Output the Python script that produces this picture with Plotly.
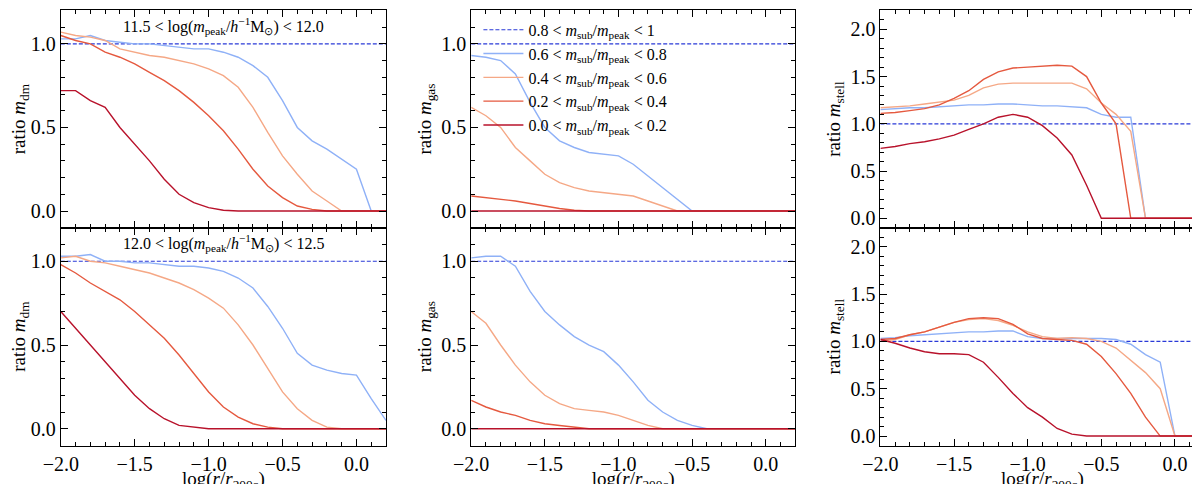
import plotly.graph_objects as go
from plotly.subplots import make_subplots

x = [round(-2.0 + 0.1 * i, 1) for i in range(23)]

# one dict per panel: series for bins 0.6-0.8, 0.4-0.6, 0.2-0.4, 0.0-0.2
dm_low = {
    "b06": [1.03, 1.03, 1.05, 1.02, 1.01, 1.0, 1.0, 0.99, 0.98, 0.97, 0.97, 0.95, 0.92, 0.87, 0.8, 0.66, 0.5, 0.42, 0.37, 0.31, 0.25, 0.0, 0.0],
    "b04": [1.07, 1.05, 1.04, 1.02, 0.97, 0.95, 0.93, 0.92, 0.9, 0.88, 0.85, 0.81, 0.74, 0.62, 0.47, 0.33, 0.22, 0.12, 0.06, 0.0, 0.0, 0.0, 0.0],
    "b02": [1.05, 1.02, 1.0, 0.95, 0.92, 0.88, 0.83, 0.78, 0.72, 0.65, 0.57, 0.48, 0.37, 0.25, 0.15, 0.08, 0.03, 0.01, 0.0, 0.0, 0.0, 0.0, 0.0],
    "b00": [0.72, 0.72, 0.66, 0.62, 0.5, 0.4, 0.3, 0.19, 0.1, 0.05, 0.02, 0.005, 0.0, 0.0, 0.0, 0.0, 0.0, 0.0, 0.0, 0.0, 0.0, 0.0, 0.0],
}
dm_high = {
    "b06": [1.03, 1.03, 1.04, 1.0, 1.0, 0.99, 0.99, 0.98, 0.97, 0.97, 0.96, 0.94, 0.9, 0.84, 0.73, 0.6, 0.45, 0.38, 0.35, 0.33, 0.32, 0.18, 0.05],
    "b04": [1.02, 1.03, 1.0, 0.99, 0.97, 0.95, 0.93, 0.9, 0.87, 0.83, 0.78, 0.72, 0.62, 0.5, 0.36, 0.22, 0.12, 0.05, 0.01, 0.0, 0.0, 0.0, 0.0],
    "b02": [0.98, 0.93, 0.87, 0.82, 0.77, 0.7, 0.62, 0.54, 0.44, 0.33, 0.22, 0.13, 0.07, 0.03, 0.01, 0.0, 0.0, 0.0, 0.0, 0.0, 0.0, 0.0, 0.0],
    "b00": [0.7, 0.6, 0.5, 0.4, 0.3, 0.2, 0.12, 0.06, 0.02, 0.01, 0.0, 0.0, 0.0, 0.0, 0.0, 0.0, 0.0, 0.0, 0.0, 0.0, 0.0, 0.0, 0.0],
}
gas_low = {
    "b06": [0.93, 0.92, 0.9, 0.82, 0.65, 0.5, 0.42, 0.38, 0.35, 0.34, 0.33, 0.28, 0.21, 0.14, 0.07, 0.0, 0.0, 0.0, 0.0, 0.0, 0.0, 0.0, 0.0],
    "b04": [0.62, 0.57, 0.5, 0.38, 0.3, 0.22, 0.17, 0.14, 0.12, 0.11, 0.1, 0.09, 0.06, 0.03, 0.0, 0.0, 0.0, 0.0, 0.0, 0.0, 0.0, 0.0, 0.0],
    "b02": [0.09, 0.08, 0.07, 0.06, 0.045, 0.03, 0.015, 0.005, 0.0, 0.0, 0.0, 0.0, 0.0, 0.0, 0.0, 0.0, 0.0, 0.0, 0.0, 0.0, 0.0, 0.0, 0.0],
    "b00": [0.0] * 23,
}
gas_high = {
    "b06": [1.02, 1.03, 1.03, 0.97, 0.82, 0.7, 0.62, 0.55, 0.5, 0.46, 0.38, 0.28, 0.17, 0.1, 0.05, 0.02, 0.0, 0.0, 0.0, 0.0, 0.0, 0.0, 0.0],
    "b04": [0.7, 0.63, 0.5, 0.38, 0.28, 0.2, 0.15, 0.12, 0.11, 0.1, 0.08, 0.05, 0.02, 0.0, 0.0, 0.0, 0.0, 0.0, 0.0, 0.0, 0.0, 0.0, 0.0],
    "b02": [0.17, 0.13, 0.1, 0.08, 0.05, 0.03, 0.02, 0.01, 0.0, 0.0, 0.0, 0.0, 0.0, 0.0, 0.0, 0.0, 0.0, 0.0, 0.0, 0.0, 0.0, 0.0, 0.0],
    "b00": [0.0] * 23,
}
stell_low = {
    "b06": [1.15, 1.16, 1.17, 1.17, 1.18, 1.19, 1.2, 1.2, 1.21, 1.21, 1.2, 1.19, 1.19, 1.18, 1.17, 1.1, 1.07, 1.07, 0.0, 0.0, 0.0, 0.0, 0.0],
    "b04": [1.17, 1.18, 1.19, 1.21, 1.23, 1.25, 1.3, 1.38, 1.42, 1.43, 1.43, 1.43, 1.43, 1.43, 1.37, 1.22, 1.1, 0.92, 0.0, 0.0, 0.0, 0.0, 0.0],
    "b02": [1.11, 1.12, 1.14, 1.16, 1.2, 1.27, 1.35, 1.47, 1.55, 1.59, 1.6, 1.61, 1.62, 1.61, 1.5, 1.22, 1.0, 0.0, 0.0, 0.0, 0.0, 0.0, 0.0],
    "b00": [0.74, 0.76, 0.79, 0.81, 0.84, 0.88, 0.94, 1.0, 1.07, 1.1, 1.07, 0.98, 0.85, 0.67, 0.35, 0.0, 0.0, 0.0, 0.0, 0.0, 0.0, 0.0, 0.0],
}
stell_high = {
    "b06": [1.03, 1.04, 1.06, 1.07, 1.08, 1.09, 1.1, 1.1, 1.11, 1.11, 1.05, 1.03, 1.03, 1.03, 1.03, 1.03, 1.02, 0.97, 0.86, 0.78, 0.0, 0.0, 0.0],
    "b04": [1.0, 1.02, 1.07, 1.1, 1.15, 1.2, 1.23, 1.24, 1.22, 1.17, 1.1, 1.05, 1.03, 1.04, 1.03, 1.0, 0.93, 0.8, 0.67, 0.5, 0.0, 0.0, 0.0],
    "b02": [1.02, 1.03, 1.07, 1.1, 1.15, 1.2, 1.24, 1.25, 1.24, 1.18, 1.08, 1.03, 1.02, 1.01, 0.97, 0.84, 0.66, 0.45, 0.2, 0.0, 0.0, 0.0, 0.0],
    "b00": [1.02, 0.98, 0.93, 0.89, 0.87, 0.87, 0.86, 0.78, 0.62, 0.45, 0.3, 0.2, 0.08, 0.02, 0.0, 0.0, 0.0, 0.0, 0.0, 0.0, 0.0, 0.0, 0.0],
}

bins = ["b06", "b04", "b02", "b00"]
colors = {"b06": "#8fb1f7", "b04": "#f5a886", "b02": "#e5593f", "b00": "#b8122b"}
names = {
    "b08": "0.8 < <i>m</i><sub>sub</sub>/<i>m</i><sub>peak</sub> < 1",
    "b06": "0.6 < <i>m</i><sub>sub</sub>/<i>m</i><sub>peak</sub> < 0.8",
    "b04": "0.4 < <i>m</i><sub>sub</sub>/<i>m</i><sub>peak</sub> < 0.6",
    "b02": "0.2 < <i>m</i><sub>sub</sub>/<i>m</i><sub>peak</sub> < 0.4",
    "b00": "0.0 < <i>m</i><sub>sub</sub>/<i>m</i><sub>peak</sub> < 0.2",
}
panels = [[dm_low, gas_low, stell_low], [dm_high, gas_high, stell_high]]
ylabels = ["ratio <i>m</i><sub>dm</sub>", "ratio <i>m</i><sub>gas</sub>", "ratio <i>m</i><sub>stell</sub>"]

FONT = "Liberation Serif"
fig = make_subplots(rows=2, cols=3)

for r in range(2):
    for c in range(3):
        d = panels[r][c]
        show = (r == 0 and c == 1)
        fig.add_trace(go.Scatter(x=[-2.0, 0.2], y=[1.0, 1.0], mode="lines",
                                 line=dict(color="#2a3ad8", width=1.2, dash="4px,2px"),
                                 name=names["b08"], showlegend=show), row=r + 1, col=c + 1)
        for b in bins:
            fig.add_trace(go.Scatter(x=x, y=d[b], mode="lines",
                                     line=dict(color=colors[b], width=1.4),
                                     name=names[b], showlegend=show), row=r + 1, col=c + 1)

xdom = [[0.044, 0.315], [0.386, 0.656], [0.727, 0.997]]
ydom = [[0.546, 0.995], [0.096, 0.546]]
axstyle = dict(showline=True, linecolor="black", linewidth=1, mirror="allticks",
               ticks="inside", ticklen=7, tickcolor="black", showgrid=False, zeroline=False,
               automargin=False,
               tickfont=dict(family=FONT, size=20, color="black"),
               minor=dict(ticks="inside", ticklen=4, tickcolor="black"))
for r in range(2):
    for c in range(3):
        k = r * 3 + c + 1
        xa = "xaxis" if k == 1 else f"xaxis{k}"
        ya = "yaxis" if k == 1 else f"yaxis{k}"
        yr = [-0.1, 2.2] if c == 2 else [-0.1, 1.2]
        fig.layout[xa].update(domain=xdom[c], range=[-2.0, 0.2], dtick=0.5, tick0=0,
                              showticklabels=(r == 1), tickformat=".1f",
                              minor_dtick=0.1, **axstyle)
        fig.layout[ya].update(domain=ydom[r], range=yr, dtick=0.5, tickformat=".1f",
                              minor_dtick=0.1, **axstyle)
        fig.layout[ya].title = dict(text=ylabels[c], font=dict(family=FONT, size=19, color="black"),
                                    standoff=4)
        if r == 1:
            fig.layout[xa].title = dict(text="log(<i>r</i>/<i>r</i><sub>200c</sub>)",
                                        font=dict(family=FONT, size=19, color="black"), standoff=2)

fig.add_annotation(text="11.5 < log(<i>m</i><sub>peak</sub>/<i>h</i><sup>−1</sup>M<sub>⊙</sub>) < 12.0",
                   x=-0.9, y=1.03, xref="x", yref="y", yanchor="bottom", showarrow=False,
                   font=dict(family=FONT, size=16, color="black"))
fig.add_annotation(text="12.0 < log(<i>m</i><sub>peak</sub>/<i>h</i><sup>−1</sup>M<sub>⊙</sub>) < 12.5",
                   x=-0.9, y=1.03, xref="x4", yref="y4", yanchor="bottom", showarrow=False,
                   font=dict(family=FONT, size=16, color="black"))

fig.update_layout(
    width=1200, height=484, template="plotly_white",
    paper_bgcolor="white", plot_bgcolor="white",
    font=dict(family=FONT, color="black"),
    margin=dict(l=0, r=0, t=0, b=0),
    legend=dict(x=0.392, y=0.99, xanchor="left", yanchor="top", bgcolor="rgba(0,0,0,0)",
                font=dict(family=FONT, size=16, color="black"), tracegroupgap=0, itemwidth=40),
)

fig.write_html("out.html")
